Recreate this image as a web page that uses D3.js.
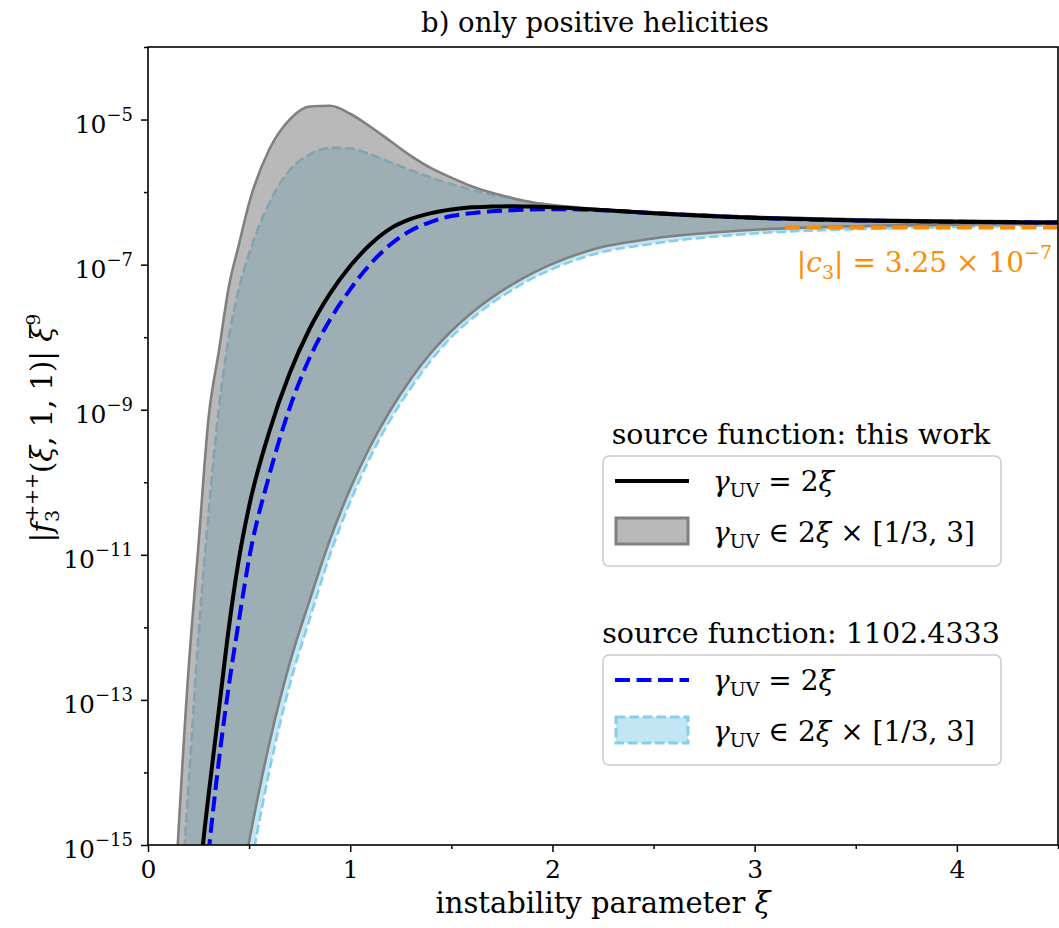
<!DOCTYPE html>
<html>
<head>
<meta charset="utf-8">
<script src="https://cdn.jsdelivr.net/npm/d3@7"></script>
<style>
body { margin: 0; background: #fff; }
svg text { font-family: "DejaVu Serif", "Liberation Serif", serif; fill: #000; }
</style>
</head>
<body>
<svg id="chart" width="1059" height="928"></svg>
<script>
// instability parameter grid
var xi = [0.1, 0.2, 0.25, 0.3, 0.35, 0.4, 0.45, 0.5, 0.6, 0.7, 0.8, 0.9, 1.0, 1.1, 1.2, 1.3, 1.4, 1.5,
    1.6, 1.7, 1.8, 1.9, 2.0, 2.2, 2.5, 3.0, 3.5, 4.0, 4.5];

// log10 of |f3+++(xi,1,1)| xi^9
var thisWorkMid = [-22, -17.5, -15.6, -14.3, -13.15, -12.0, -11.05, -10.33, -9.3, -8.5, -7.88, -7.40, -7.02,
    -6.72, -6.50, -6.37, -6.29, -6.24, -6.21, -6.20, -6.195, -6.20, -6.21, -6.24, -6.29, -6.355, -6.39, -6.41, -6.42];
var thisWorkHigh = [-17.4, -12.6, -10.85, -9.1, -8.2, -7.3, -6.72, -6.15, -5.41, -5.0, -4.82, -4.81, -4.92,
    -5.10, -5.30, -5.50, -5.67, -5.80, -5.92, -6.01, -6.08, -6.14, -6.18, -6.23, -6.28, -6.34, -6.375, -6.395, -6.405];
var thisWorkLow = [-27, -22.5, -20.5, -19, -17.7, -16.6, -15.7, -14.95, -13.6, -12.5, -11.62, -10.79, -10.09,
    -9.5, -9.0, -8.575, -8.215, -7.915, -7.665, -7.455, -7.275, -7.12, -6.99, -6.79, -6.64, -6.52, -6.47, -6.45, -6.44];

var olderMid = [-24, -18.5, -16.6, -15.1, -13.85, -12.8, -11.9, -11.05, -9.9, -8.98, -8.28, -7.76, -7.34,
    -6.99, -6.72, -6.53, -6.41, -6.33, -6.29, -6.265, -6.25, -6.24, -6.235, -6.245, -6.29, -6.355, -6.39, -6.41, -6.42];
var olderHigh = [-18.4, -14.2, -12.1, -10.4, -9.0, -8.0, -7.33, -6.85, -6.15, -5.70, -5.48, -5.39, -5.40,
    -5.48, -5.59, -5.70, -5.80, -5.89, -5.97, -6.04, -6.09, -6.145, -6.18, -6.23, -6.28, -6.34, -6.375, -6.395, -6.405];
var olderLow = [-28, -23.5, -21.5, -19.9, -18.5, -17.3, -16.3, -15.45, -13.98, -12.8, -11.88, -11.0, -10.27,
    -9.65, -9.13, -8.7, -8.32, -8.0, -7.75, -7.53, -7.35, -7.19, -7.06, -6.86, -6.71, -6.57, -6.51, -6.48, -6.46];

var c3Value = 3.25e-7;
var c3Span = [3.15, 4.5];

var xMajor = [0, 1, 2, 3, 4];
var xMinor = [0.5, 1.5, 2.5, 3.5, 4.5];
var yMajorExp = [-15, -13, -11, -9, -7, -5];
var yMinorExp = [-14, -12, -10, -8, -6, -4];

var svg = d3.select('#chart');
var pLeft = 148, pRight = 1058, pTop = 47, pBottom = 845;

var x = d3.scaleLinear().domain([0, 4.5]).range([pLeft, pRight]);
var y = d3.scaleLog().domain([1e-15, 1e-4]).range([pBottom, pTop]);

function rows(lo, hi) {
    return xi.map(function(v, i) {
        return { x: v, lo: Math.pow(10, lo[i]), hi: hi ? Math.pow(10, hi[i]) : null };
    });
}

svg.append('defs').append('clipPath').attr('id', 'plotClip')
    .append('rect').attr('x', pLeft).attr('y', pTop).attr('width', pRight - pLeft).attr('height', pBottom - pTop);

var plot = svg.append('g').attr('clip-path', 'url(#plotClip)');

var curve = d3.curveMonotoneX;
var band = d3.area().curve(curve)
    .x(function(d) { return x(d.x); })
    .y0(function(d) { return y(d.lo); })
    .y1(function(d) { return y(d.hi); });
var edgeLo = d3.line().curve(curve).x(function(d) { return x(d.x); }).y(function(d) { return y(d.lo); });
var edgeHi = d3.line().curve(curve).x(function(d) { return x(d.x); }).y(function(d) { return y(d.hi); });

// 1102.4333 band
var older = rows(olderLow, olderHigh);
plot.append('path').datum(older).attr('d', band)
    .attr('fill', '#87ceeb').attr('fill-opacity', 0.5);
[edgeLo, edgeHi].forEach(function(fn) {
    plot.append('path').datum(older).attr('d', fn)
        .attr('fill', 'none').attr('stroke', '#87ceeb').attr('stroke-width', 2.6)
        .attr('stroke-dasharray', '9.5,4');
});

// this work band
var mine = rows(thisWorkLow, thisWorkHigh);
plot.append('path').datum(mine).attr('d', band)
    .attr('fill', '#808080').attr('fill-opacity', 0.55);
[edgeLo, edgeHi].forEach(function(fn) {
    plot.append('path').datum(mine).attr('d', fn)
        .attr('fill', 'none').attr('stroke', '#808080').attr('stroke-width', 2.6);
});

plot.append('path').datum(rows(olderMid)).attr('d', edgeLo)
    .attr('fill', 'none').attr('stroke', '#0000ff').attr('stroke-width', 4)
    .attr('stroke-dasharray', '15,6.5');
plot.append('path').datum(rows(thisWorkMid)).attr('d', edgeLo)
    .attr('fill', 'none').attr('stroke', '#000').attr('stroke-width', 4);

plot.append('line')
    .attr('x1', x(c3Span[0])).attr('x2', x(c3Span[1]))
    .attr('y1', y(c3Value)).attr('y2', y(c3Value))
    .attr('stroke', '#ff8c00').attr('stroke-width', 4).attr('stroke-dasharray', '15,6.5');

// axes
svg.append('g').attr('transform', 'translate(0,' + pBottom + ')')
    .call(d3.axisBottom(x).tickValues(xMajor).tickSize(7).tickPadding(8).tickFormat(d3.format('d')));
svg.append('g').attr('transform', 'translate(0,' + pBottom + ')')
    .call(d3.axisBottom(x).tickValues(xMinor).tickSize(4).tickFormat(''));

var yAxis = svg.append('g').attr('transform', 'translate(' + pLeft + ',0)')
    .call(d3.axisLeft(y).tickValues(yMajorExp.map(function(e) { return Math.pow(10, e); }))
        .tickSize(7).tickPadding(8));
svg.append('g').attr('transform', 'translate(' + pLeft + ',0)')
    .call(d3.axisLeft(y).tickValues(yMinorExp.map(function(e) { return Math.pow(10, e); }))
        .tickSize(4).tickFormat(''));

yAxis.selectAll('.tick text').each(function(d) {
    var t = d3.select(this).text(null).attr('dy', '0.5em');
    t.append('tspan').text('10');
    t.append('tspan').attr('dy', -12).style('font-size', '18px')
        .text('\u2212' + Math.round(-Math.log10(d)));
});

svg.selectAll('.domain').remove();
svg.selectAll('.tick line').attr('stroke', '#000').attr('stroke-width', 1.5);
svg.selectAll('.tick text').style('font-size', '25px').style('font-family', null);

svg.append('rect').attr('x', pLeft).attr('y', pTop).attr('width', pRight - pLeft).attr('height', pBottom - pTop)
    .attr('fill', 'none').attr('stroke', '#000').attr('stroke-width', 1.6);

// titles
svg.append('text').attr('x', 595).attr('y', 32).attr('text-anchor', 'middle')
    .style('font-size', '27.5px').text('b) only positive helicities');

var xl = svg.append('text').attr('x', (pLeft + pRight) / 2).attr('y', 913).attr('text-anchor', 'middle')
    .style('font-size', '29px');
xl.append('tspan').text('instability parameter ');
xl.append('tspan').style('font-style', 'italic').text('\u03be');

var yl = svg.append('text').attr('transform', 'translate(52,428) rotate(-90)')
    .attr('text-anchor', 'middle').style('font-size', '29px');
yl.append('tspan').text('|');
yl.append('tspan').style('font-style', 'italic').text('f');
yl.append('tspan').attr('dy', 7).style('font-size', '19px').text('3');
yl.append('tspan').attr('dx', -11).attr('dy', -21).style('font-size', '19px').text('+++');
yl.append('tspan').attr('dy', 14).text('(');
yl.append('tspan').style('font-style', 'italic').text('\u03be');
yl.append('tspan').text(', 1, 1)| ');
yl.append('tspan').style('font-style', 'italic').text('\u03be');
yl.append('tspan').attr('dy', -12).style('font-size', '19px').text('9');

// c3 label
var cl = svg.append('text').attr('x', 1052).attr('y', 272).attr('text-anchor', 'end')
    .style('font-size', '28px');
cl.append('tspan').style('fill', '#ff8c00').text('|');
cl.append('tspan').style('fill', '#ff8c00').style('font-style', 'italic').text('c');
cl.append('tspan').style('fill', '#ff8c00').attr('dy', 7).style('font-size', '19px').text('3');
cl.append('tspan').style('fill', '#ff8c00').attr('dy', -7).text('| = 3.25 \u00d7 10');
cl.append('tspan').style('fill', '#ff8c00').attr('dy', -13).style('font-size', '19px').text('\u22127');

// legends
function gammaLabel(g, tx, ty, rest) {
    var t = g.append('text').attr('x', tx).attr('y', ty).style('font-size', '28px');
    t.append('tspan').style('font-style', 'italic').text('\u03b3');
    t.append('tspan').attr('dy', 6).style('font-size', '19px').text('UV');
    t.append('tspan').attr('dy', -6).text(' ' + rest[0] + ' 2');
    t.append('tspan').style('font-style', 'italic').text('\u03be');
    if (rest[1]) t.append('tspan').text(rest[1]);
}

function legend(top0, title, lineAttrs, patchAttrs) {
    var g = svg.append('g');
    g.append('text').attr('x', 801).attr('y', top0 - 12).attr('text-anchor', 'middle')
        .style('font-size', '28.5px').text(title);
    g.append('rect').attr('x', 603).attr('y', top0).attr('width', 398).attr('height', 110).attr('rx', 6)
        .attr('fill', '#fff').attr('fill-opacity', 0.8).attr('stroke', '#cccccc').attr('stroke-width', 1.5);
    var ln = g.append('line').attr('x1', 615).attr('x2', 689).attr('y1', top0 + 25).attr('y2', top0 + 25);
    Object.keys(lineAttrs).forEach(function(k) { ln.attr(k, lineAttrs[k]); });
    var pt = g.append('rect').attr('x', 616).attr('y', top0 + 62).attr('width', 72).attr('height', 26);
    Object.keys(patchAttrs).forEach(function(k) { pt.attr(k, patchAttrs[k]); });
    gammaLabel(g, 713, top0 + 35, ['=']);
    gammaLabel(g, 713, top0 + 86, ['\u2208', ' \u00d7 [1/3, 3]']);
}

legend(456, 'source function: this work',
    { stroke: '#000', 'stroke-width': 4 },
    { fill: '#808080', 'fill-opacity': 0.55, stroke: '#808080', 'stroke-width': 3 });
legend(655, 'source function: 1102.4333',
    { stroke: '#0000ff', 'stroke-width': 4, 'stroke-dasharray': '15,6.5' },
    { fill: '#87ceeb', 'fill-opacity': 0.5, stroke: '#87ceeb', 'stroke-width': 3, 'stroke-dasharray': '9.5,4' });
</script>
</body>
</html>
